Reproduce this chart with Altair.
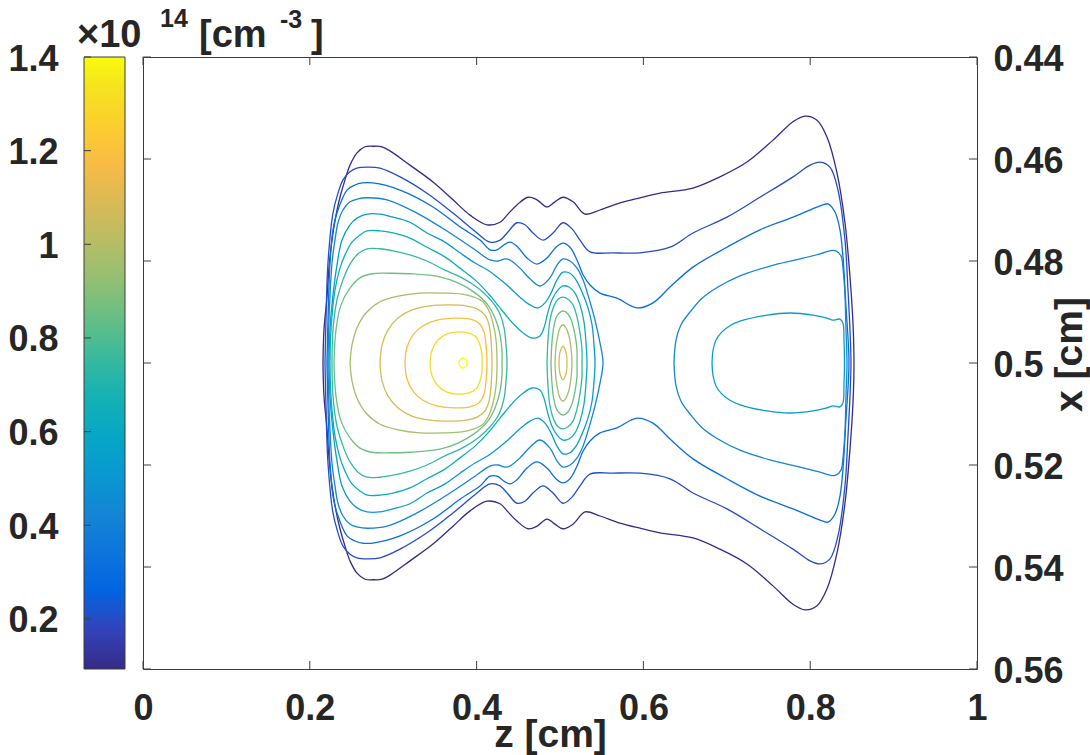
import altair as alt
import numpy as np
import pandas as pd

FONT = "Liberation Sans"
INK = "#262626"
BOX = "#3c3c3c"

# ---- colour map (parula, sampled every 4th of 64 entries) -----------------
PARULA = ["#352a87", "#3243ba", "#0363e1", "#0d75dc", "#1485d4", "#0998d1",
          "#06a7c6", "#15b1b4", "#38b99e", "#65be86", "#92bf73", "#b7bd64",
          "#d9ba56", "#f8bb44", "#fcce2e", "#f5e41d", "#f9fb0e"]
PARULA_POS = [0, 4, 8, 12, 16, 20, 24, 28, 32, 36, 40, 44, 48, 52, 56, 60, 63]

CBAR_LIMITS = [0.093, 1.4]
CBAR_TICKS = [0.2, 0.4, 0.6, 0.8, 1.0, 1.2, 1.4]
CBAR_TITLE = ["\u00d710", "14", "[cm", "-3", "]"]

# ---- axes ---------------------------------------------------------------
Z_LIMITS = [0.0, 1.0]
X_LIMITS = [0.44, 0.56]
Z_TICKS = [0.0, 0.2, 0.4, 0.6, 0.8, 1.0]
X_TICKS = [0.44, 0.46, 0.48, 0.50, 0.52, 0.54, 0.56]

# ---- contour lines (upper half, z [cm], x [cm]); field symmetric about x=0.5
c01 = [(0.2158, 0.5000), (0.2170, 0.4935), (0.2206, 0.4871), (0.2230, 0.4814), (0.2266, 0.4759),
       (0.2314, 0.4710), (0.2362, 0.4675), (0.2422, 0.4641), (0.2482, 0.4612), (0.2566, 0.4588),
       (0.2662, 0.4576), (0.2758, 0.4575), (0.2866, 0.4576), (0.2962, 0.4584), (0.3201, 0.4612),
       (0.3477, 0.4645), (0.3717, 0.4680), (0.3921, 0.4710), (0.4125, 0.4729), (0.4281, 0.4724),
       (0.4376, 0.4708), (0.4484, 0.4690), (0.4616, 0.4675), (0.4724, 0.4680), (0.4844, 0.4694),
       (0.4940, 0.4684), (0.5036, 0.4675), (0.5156, 0.4684), (0.5300, 0.4708), (0.5480, 0.4700),
       (0.5719, 0.4686), (0.5959, 0.4676), (0.6199, 0.4667), (0.6595, 0.4657), (0.6918, 0.4635),
       (0.7242, 0.4606), (0.7554, 0.4563), (0.7794, 0.4527), (0.7938, 0.4516), (0.8082, 0.4524),
       (0.8201, 0.4557), (0.8321, 0.4627), (0.8417, 0.4725), (0.8477, 0.4831), (0.8513, 0.4922),
       (0.8525, 0.5000)]
c02 = [(0.2182, 0.5000), (0.2194, 0.4916), (0.2218, 0.4804), (0.2278, 0.4706), (0.2338, 0.4667),
       (0.2398, 0.4641), (0.2482, 0.4625), (0.2566, 0.4618), (0.2686, 0.4616), (0.2842, 0.4618),
       (0.3082, 0.4635), (0.3405, 0.4667), (0.3717, 0.4706), (0.4005, 0.4745), (0.4161, 0.4763),
       (0.4281, 0.4759), (0.4376, 0.4743), (0.4484, 0.4725), (0.4580, 0.4729), (0.4676, 0.4745),
       (0.4796, 0.4759), (0.4916, 0.4745), (0.5036, 0.4725), (0.5144, 0.4737), (0.5240, 0.4759),
       (0.5360, 0.4782), (0.5635, 0.4784), (0.5959, 0.4784), (0.6319, 0.4773), (0.6595, 0.4745),
       (0.7002, 0.4714), (0.7398, 0.4675), (0.7794, 0.4635), (0.7998, 0.4612), (0.8118, 0.4606),
       (0.8237, 0.4616), (0.8333, 0.4661), (0.8417, 0.4759), (0.8453, 0.4857), (0.8477, 0.4935),
       (0.8489, 0.5000)]
c03 = [(0.2206, 0.5000), (0.2218, 0.4916), (0.2242, 0.4804), (0.2278, 0.4739), (0.2326, 0.4706),
       (0.2446, 0.4661), (0.2542, 0.4651), (0.2626, 0.4647), (0.2758, 0.4647), (0.3082, 0.4661),
       (0.3477, 0.4694), (0.3801, 0.4733), (0.4041, 0.4759), (0.4161, 0.4778), (0.4245, 0.4778),
       (0.4341, 0.4767), (0.4400, 0.4763), (0.4484, 0.4771), (0.4604, 0.4794), (0.4724, 0.4806),
       (0.4844, 0.4794), (0.4952, 0.4773), (0.5036, 0.4765), (0.5120, 0.4773), (0.5204, 0.4798),
       (0.5276, 0.4827), (0.5360, 0.4847), (0.5480, 0.4863), (0.5683, 0.4873), (0.5923, 0.4892),
       (0.6115, 0.4882), (0.6319, 0.4851), (0.6595, 0.4812), (0.7002, 0.4773), (0.7398, 0.4739),
       (0.7794, 0.4714), (0.8058, 0.4696), (0.8153, 0.4690), (0.8213, 0.4688), (0.8297, 0.4704),
       (0.8357, 0.4739), (0.8393, 0.4792), (0.8429, 0.4890), (0.8465, 0.5000)]
c04a = [(0.2218, 0.5000), (0.2230, 0.4916), (0.2266, 0.4804), (0.2302, 0.4759), (0.2338, 0.4725),
        (0.2398, 0.4700), (0.2482, 0.4684), (0.2578, 0.4678), (0.2686, 0.4676), (0.2926, 0.4680),
        (0.3285, 0.4706), (0.3681, 0.4745), (0.3981, 0.4778), (0.4161, 0.4798), (0.4257, 0.4800),
        (0.4341, 0.4796), (0.4400, 0.4798), (0.4520, 0.4814), (0.4640, 0.4835), (0.4760, 0.4849),
        (0.4880, 0.4833), (0.4964, 0.4808), (0.5036, 0.4796), (0.5120, 0.4800), (0.5204, 0.4814),
        (0.5276, 0.4837), (0.5336, 0.4867), (0.5420, 0.4916), (0.5480, 0.4961), (0.5516, 0.5000)]
c04b = [(0.6367, 0.5000), (0.6391, 0.4955), (0.6451, 0.4925), (0.6559, 0.4900), (0.6703, 0.4873),
        (0.6894, 0.4851), (0.7158, 0.4829), (0.7518, 0.4810), (0.7878, 0.4796), (0.8118, 0.4786),
        (0.8237, 0.4780), (0.8309, 0.4780), (0.8369, 0.4790), (0.8393, 0.4814), (0.8417, 0.4867),
        (0.8429, 0.4935), (0.8441, 0.5000)]
c05a = [(0.2230, 0.5000), (0.2242, 0.4935), (0.2278, 0.4867), (0.2326, 0.4808), (0.2386, 0.4759),
        (0.2482, 0.4729), (0.2566, 0.4716), (0.2686, 0.4708), (0.2842, 0.4708), (0.2998, 0.4714),
        (0.3201, 0.4724), (0.3405, 0.4745), (0.3621, 0.4763), (0.3801, 0.4784), (0.3981, 0.4804),
        (0.4137, 0.4818), (0.4257, 0.4833), (0.4376, 0.4849), (0.4520, 0.4871), (0.4640, 0.4886),
        (0.4736, 0.4892), (0.4820, 0.4882), (0.4892, 0.4863), (0.4964, 0.4837), (0.5036, 0.4822),
        (0.5120, 0.4824), (0.5192, 0.4837), (0.5264, 0.4861), (0.5336, 0.4892), (0.5384, 0.4925),
        (0.5408, 0.4965), (0.5420, 0.5000)]
c05b = [(0.6823, 0.5000), (0.6835, 0.4975), (0.6871, 0.4955), (0.6942, 0.4939), (0.7038, 0.4927),
        (0.7158, 0.4918), (0.7482, 0.4906), (0.7758, 0.4902), (0.8034, 0.4906), (0.8201, 0.4912),
        (0.8273, 0.4916), (0.8357, 0.4914), (0.8393, 0.4922), (0.8405, 0.4955), (0.8411, 0.5000)]
c06 = [(0.2242, 0.5000), (0.2254, 0.4935), (0.2302, 0.4857), (0.2362, 0.4814), (0.2422, 0.4788),
       (0.2506, 0.4763), (0.2602, 0.4749), (0.2686, 0.4741), (0.2842, 0.4741), (0.2998, 0.4745),
       (0.3201, 0.4755), (0.3405, 0.4773), (0.3621, 0.4792), (0.3801, 0.4814), (0.3981, 0.4837),
       (0.4137, 0.4863), (0.4281, 0.4892), (0.4424, 0.4920), (0.4544, 0.4939), (0.4664, 0.4951),
       (0.4760, 0.4947), (0.4808, 0.4931), (0.4856, 0.4900), (0.4904, 0.4876), (0.4964, 0.4859),
       (0.5036, 0.4849), (0.5108, 0.4851), (0.5180, 0.4863), (0.5240, 0.4886), (0.5288, 0.4920),
       (0.5312, 0.4961), (0.5324, 0.5000)]
c07a = [(0.2266, 0.5000), (0.2278, 0.4935), (0.2326, 0.4876), (0.2398, 0.4837), (0.2482, 0.4806),
        (0.2578, 0.4786), (0.2686, 0.4776), (0.2842, 0.4776), (0.2998, 0.4780), (0.3201, 0.4788),
        (0.3405, 0.4800), (0.3621, 0.4818), (0.3825, 0.4833), (0.4017, 0.4853), (0.4161, 0.4875),
        (0.4269, 0.4900), (0.4329, 0.4931), (0.4353, 0.4965), (0.4365, 0.5000)]
c07b = [(0.4844, 0.5000), (0.4856, 0.4955), (0.4880, 0.4916), (0.4928, 0.4888), (0.4976, 0.4875),
        (0.5036, 0.4871), (0.5096, 0.4875), (0.5156, 0.4886), (0.5204, 0.4910), (0.5240, 0.4941),
        (0.5264, 0.4975), (0.5264, 0.5000)]
c08a = [(0.2290, 0.5000), (0.2314, 0.4935), (0.2374, 0.4886), (0.2482, 0.4853), (0.2602, 0.4833),
        (0.2746, 0.4825), (0.2962, 0.4824), (0.3201, 0.4825), (0.3561, 0.4831), (0.3777, 0.4843),
        (0.3969, 0.4861), (0.4125, 0.4884), (0.4221, 0.4912), (0.4281, 0.4945), (0.4305, 0.4978),
        (0.4305, 0.5000)]
c08b = [(0.4892, 0.5000), (0.4904, 0.4959), (0.4928, 0.4927), (0.4964, 0.4908), (0.5036, 0.4898),
        (0.5096, 0.4904), (0.5144, 0.4920), (0.5180, 0.4945), (0.5204, 0.4975), (0.5204, 0.5000)]
c09a = [(0.2482, 0.5000), (0.2506, 0.4965), (0.2566, 0.4931), (0.2674, 0.4902), (0.2842, 0.4880),
        (0.3058, 0.4869), (0.3321, 0.4863), (0.3621, 0.4863), (0.3825, 0.4865), (0.3969, 0.4871),
        (0.4077, 0.4880), (0.4149, 0.4898), (0.4197, 0.4922), (0.4233, 0.4955), (0.4245, 0.5000)]
c09b = [(0.4940, 0.5000), (0.4952, 0.4969), (0.4976, 0.4945), (0.5000, 0.4931), (0.5036, 0.4925),
        (0.5072, 0.4931), (0.5108, 0.4947), (0.5132, 0.4971), (0.5144, 0.5000)]
c10a = [(0.2842, 0.5000), (0.2866, 0.4965), (0.2938, 0.4935), (0.3058, 0.4912), (0.3225, 0.4896),
        (0.3441, 0.4888), (0.3681, 0.4886), (0.3873, 0.4888), (0.4005, 0.4894), (0.4101, 0.4906),
        (0.4149, 0.4925), (0.4173, 0.4955), (0.4185, 0.5000)]
c10b = [(0.4988, 0.5000), (0.4994, 0.4984), (0.5012, 0.4973), (0.5036, 0.4967), (0.5060, 0.4973),
        (0.5078, 0.4984), (0.5084, 0.5000)]
c11 = [(0.3141, 0.5000), (0.3165, 0.4969), (0.3237, 0.4945), (0.3357, 0.4927), (0.3525, 0.4916),
       (0.3741, 0.4912), (0.3921, 0.4914), (0.4029, 0.4922), (0.4089, 0.4939), (0.4113, 0.4965),
       (0.4125, 0.5000)]
c12 = [(0.3441, 0.5000), (0.3465, 0.4975), (0.3537, 0.4955), (0.3645, 0.4943), (0.3777, 0.4939),
       (0.3897, 0.4941), (0.3993, 0.4949), (0.4041, 0.4965), (0.4065, 0.4984), (0.4065, 0.5000)]
c13 = [(0.3789, 0.5000), (0.3795, 0.4995), (0.3813, 0.4992), (0.3837, 0.4990), (0.3861, 0.4992),
       (0.3879, 0.4995), (0.3885, 0.5000)]

CONTOURS = [
    ("L01", 0.1, c01), ("L02", 0.2, c02), ("L03", 0.3, c03),
    ("L04a", 0.4, c04a), ("L04b", 0.4, c04b),
    ("L05a", 0.5, c05a), ("L05b", 0.5, c05b),
    ("L06", 0.6, c06),
    ("L07a", 0.7, c07a), ("L07b", 0.7, c07b),
    ("L08a", 0.8, c08a), ("L08b", 0.8, c08b),
    ("L09a", 0.9, c09a), ("L09b", 0.9, c09b),
    ("L10a", 1.0, c10a), ("L10b", 1.0, c10b),
    ("L11", 1.1, c11), ("L12", 1.2, c12), ("L13", 1.3, c13),
]

rows = []
for name, level, half in CONTOURS:
    # lower half is the mirror image of the upper half about x = 0.5
    lower = [(z, round(1.0 - x, 4)) for z, x in reversed(half[:-1])]
    for i, (z, x) in enumerate(list(half) + lower):
        rows.append({"cid": name, "i": i, "level": level, "z": z, "x": x})
df = pd.DataFrame(rows)

# ---- layout -------------------------------------------------------------
W, H = 834, 612
frac = [p / PARULA_POS[-1] for p in PARULA_POS]

z_scale = alt.Scale(domain=Z_LIMITS, nice=False, zero=False)
x_scale = alt.Scale(domain=X_LIMITS, reverse=True, nice=False, zero=False)
cb_scale = alt.Scale(domain=CBAR_LIMITS, nice=False, zero=False)
lev_lo = min(c[1] for c in CONTOURS)
lev_hi = max(c[1] for c in CONTOURS)
c_scale = alt.Scale(type="linear", domain=[lev_lo + f * (lev_hi - lev_lo) for f in frac],
                    range=PARULA, interpolate="rgb")

Z_AXIS = alt.Axis(orient="bottom", values=Z_TICKS, format="~g", ticks=False, tickSize=0,
                  domain=False, grid=False, labelFont=FONT, labelFontSize=36,
                  labelFontWeight="bold", labelColor=INK, labelPadding=22,
                  labelFlush=False, labelOverlap=False,
                  title="z [cm]", titleFont=FONT, titleFontSize=39, titleFontWeight="bold",
                  titleColor=INK, titleX=407, titleY=77, titleBaseline="alphabetic",
                  titleAlign="center")
X_AXIS = alt.Axis(orient="right", values=X_TICKS, format="~g", ticks=False, tickSize=0,
                  domain=False, grid=False, labelFont=FONT, labelFontSize=36,
                  labelFontWeight="bold", labelColor=INK, labelPadding=16, labelOffset=2,
                  labelFlush=False, labelOverlap=False,
                  title="x [cm]", titleFont=FONT, titleFontSize=39, titleFontWeight="bold",
                  titleColor=INK, titleAngle=270, titleX=104, titleY=297,
                  titleBaseline="alphabetic", titleAlign="center")
CB_AXIS = alt.Axis(orient="left", offset=59, values=CBAR_TICKS, format="~g", ticks=False,
                   tickSize=0, domain=False, grid=False, labelFont=FONT, labelFontSize=36,
                   labelFontWeight="bold", labelColor=INK, labelPadding=26, labelOffset=2,
                   labelFlush=False, labelOverlap=False, title="")

contours = alt.Chart(df).mark_line(strokeWidth=1.3, interpolate="catmull-rom").encode(
    x=alt.X("z:Q", scale=z_scale, axis=Z_AXIS),
    y=alt.Y("x:Q", scale=x_scale, axis=X_AXIS),
    color=alt.Color("level:Q", scale=c_scale, legend=None),
    detail="cid:N",
    order="i:Q",
)

zt = pd.DataFrame({"z": Z_TICKS})
xt = pd.DataFrame({"x": X_TICKS})
RULE = dict(color=BOX, strokeWidth=1)
t_bottom = alt.Chart(zt).mark_rule(**RULE).encode(
    x=alt.X("z:Q", scale=z_scale, axis=Z_AXIS), y=alt.value(H), y2=alt.value(H - 8))
t_top = alt.Chart(zt).mark_rule(**RULE).encode(
    x=alt.X("z:Q", scale=z_scale, axis=Z_AXIS), y=alt.value(0), y2=alt.value(8))
t_right = alt.Chart(xt).mark_rule(**RULE).encode(
    y=alt.Y("x:Q", scale=x_scale, axis=X_AXIS), x=alt.value(W), x2=alt.value(W - 8))
t_left = alt.Chart(xt).mark_rule(**RULE).encode(
    y=alt.Y("x:Q", scale=x_scale, axis=X_AXIS), x=alt.value(0), x2=alt.value(8))

# colour bar title pieces: x offset, baseline y, font size
title_pos = [(-66, -10, 38), (17, -30, 25), (56, -10, 38), (137, -29, 25), (168, -10, 38)]
texts = []
for s, (px, py, fs) in zip(CBAR_TITLE, title_pos):
    texts.append(
        alt.Chart(alt.Data(values=[{"t": s}])).mark_text(
            align="left", baseline="alphabetic", font=FONT, fontSize=fs,
            fontWeight="bold", color=INK).encode(
            text="t:N", x=alt.value(px), y=alt.value(py)))

grad = alt.LinearGradient(
    gradient="linear",
    stops=[alt.GradientStop(offset=f, color=c) for f, c in zip(frac, PARULA)],
    x1=0, x2=0, y1=1, y2=0)
cb_df = pd.DataFrame({"lo": [CBAR_LIMITS[0]], "hi": [CBAR_LIMITS[1]]})
cbar = alt.Chart(cb_df).mark_rect(color=grad, stroke=BOX, strokeWidth=1).encode(
    y=alt.Y("lo:Q", scale=cb_scale, axis=CB_AXIS), y2="hi:Q",
    x=alt.value(-59), x2=alt.value(-18))
cbt = pd.DataFrame({"v": CBAR_TICKS})
cbar_ticks = alt.Chart(cbt).mark_rule(**RULE).encode(
    y=alt.Y("v:Q", scale=cb_scale, axis=CB_AXIS), x=alt.value(-59), x2=alt.value(-52))

plot = alt.layer(contours, t_bottom, t_top, t_left, t_right, *texts)
cbar_layer = alt.layer(cbar, cbar_ticks)

chart = alt.layer(cbar_layer, plot).resolve_scale(y="independent").properties(
    width=W, height=H,
    autosize=alt.AutoSizeParams(type="none"),
    padding={"left": 143, "top": 57, "right": 113, "bottom": 86},
    background="white",
).configure_view(stroke=BOX, strokeWidth=1)

chart.save("out.html", embed_options={"renderer": "svg", "actions": False})
